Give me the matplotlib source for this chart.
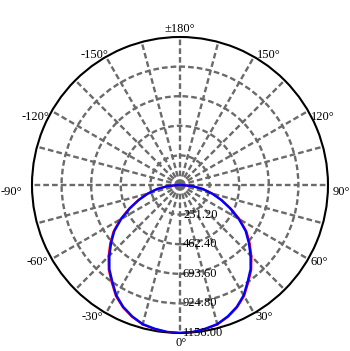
import numpy as np
import matplotlib
matplotlib.use('Agg')
import matplotlib.pyplot as plt

# luminous intensity (cd), gamma angles -90..90 deg
gamma_deg = [-90, -85, -80, -75, -70, -65, -60, -55, -50, -45, -40, -35, -30, -25, -20, -15, -10, -5,
             0, 5, 10, 15, 20, 25, 30, 35, 40, 45, 50, 55, 60, 65, 70, 75, 80, 85, 90]
c0_180 = [12, 98, 184, 265, 350, 440, 540, 635, 712, 790, 866, 930, 1002, 1055, 1096, 1128, 1142, 1153,
          1156, 1153, 1142, 1128, 1096, 1055, 1002, 930, 866, 790, 712, 635, 540, 440, 350, 265, 184, 98, 12]
c90_270 = [10, 95, 180, 260, 342, 432, 530, 626, 702, 780, 858, 922, 995, 1050, 1092, 1125, 1140, 1152,
           1156, 1152, 1140, 1125, 1092, 1050, 995, 922, 858, 780, 702, 626, 530, 432, 342, 260, 180, 95, 10]

ring_values = [231.2, 462.4, 693.6, 924.8, 1156.0]
ring_labels = ['231.20', '462.40', '693.60', '924.80', '1156.00']

angle_ticks = [180, 150, 120, 90, 60, 30, 0, -30, -60, -90, -120, -150]
angle_labels = ['\u00b1180\u00b0', '150\u00b0', '120\u00b0', '90\u00b0', '60\u00b0', '30\u00b0', '0\u00b0',
                '-30\u00b0', '-60\u00b0', '-90\u00b0', '-120\u00b0', '-150\u00b0']

r_max = ring_values[-1]
font = dict(family='Liberation Serif', size=9, color='black')

fig = plt.figure(figsize=(3.5, 3.51), dpi=100)
ax = fig.add_axes([0.0914, 0.0513, 0.8457, 0.8433], projection='polar')
ax.set_theta_zero_location('S')
ax.set_theta_direction(1)
ax.set_ylim(0, r_max)

ax.set_thetagrids(np.arange(0, 360, 15), labels=[])
ax.set_rgrids(ring_values[:-1], labels=[])
ax.grid(True, color='#6a6a6a', linestyle=(0, (2.4, 1.3)), linewidth=1.7)
ax.spines['polar'].set_color('black')
ax.spines['polar'].set_linewidth(1.5)
ax.tick_params(length=0)

th = np.radians(gamma_deg)
ax.plot(th, c0_180, color='red', lw=1.5, zorder=3)
ax.plot(th, c90_270, color='blue', lw=1.7, zorder=4)

# radial value labels along the 0 deg spoke
for v, s in zip(ring_values, ring_labels):
    ax.annotate(s, xy=(0, v), xytext=(3, 0), textcoords='offset pixels',
                ha='left', va='center', zorder=5, **font)

# angle labels around the outer circle
for a, s in zip(angle_ticks, angle_labels):
    if a == 0:
        ha, va, off = 'center', 'top', (1, -4)
    elif abs(a) == 180:
        ha, va, off = 'center', 'bottom', (0, 2)
    elif a < 0:
        ha, va = 'right', 'center'
        off = {-150: (2, 2), -120: (-2, -6), -90: (-10, -7), -60: (-4, -3), -30: (-3, -4)}[a]
    else:
        ha, va = 'left', 'center'
        off = {150: (3, 2), 120: (3, -6), 90: (5, -7), 60: (2, -3), 30: (1, -4)}[a]
    ax.annotate(s, xy=(np.radians(a), r_max), xytext=off, textcoords='offset pixels',
                ha=ha, va=va, annotation_clip=False, **font)

fig.savefig('out.png', dpi=100)
